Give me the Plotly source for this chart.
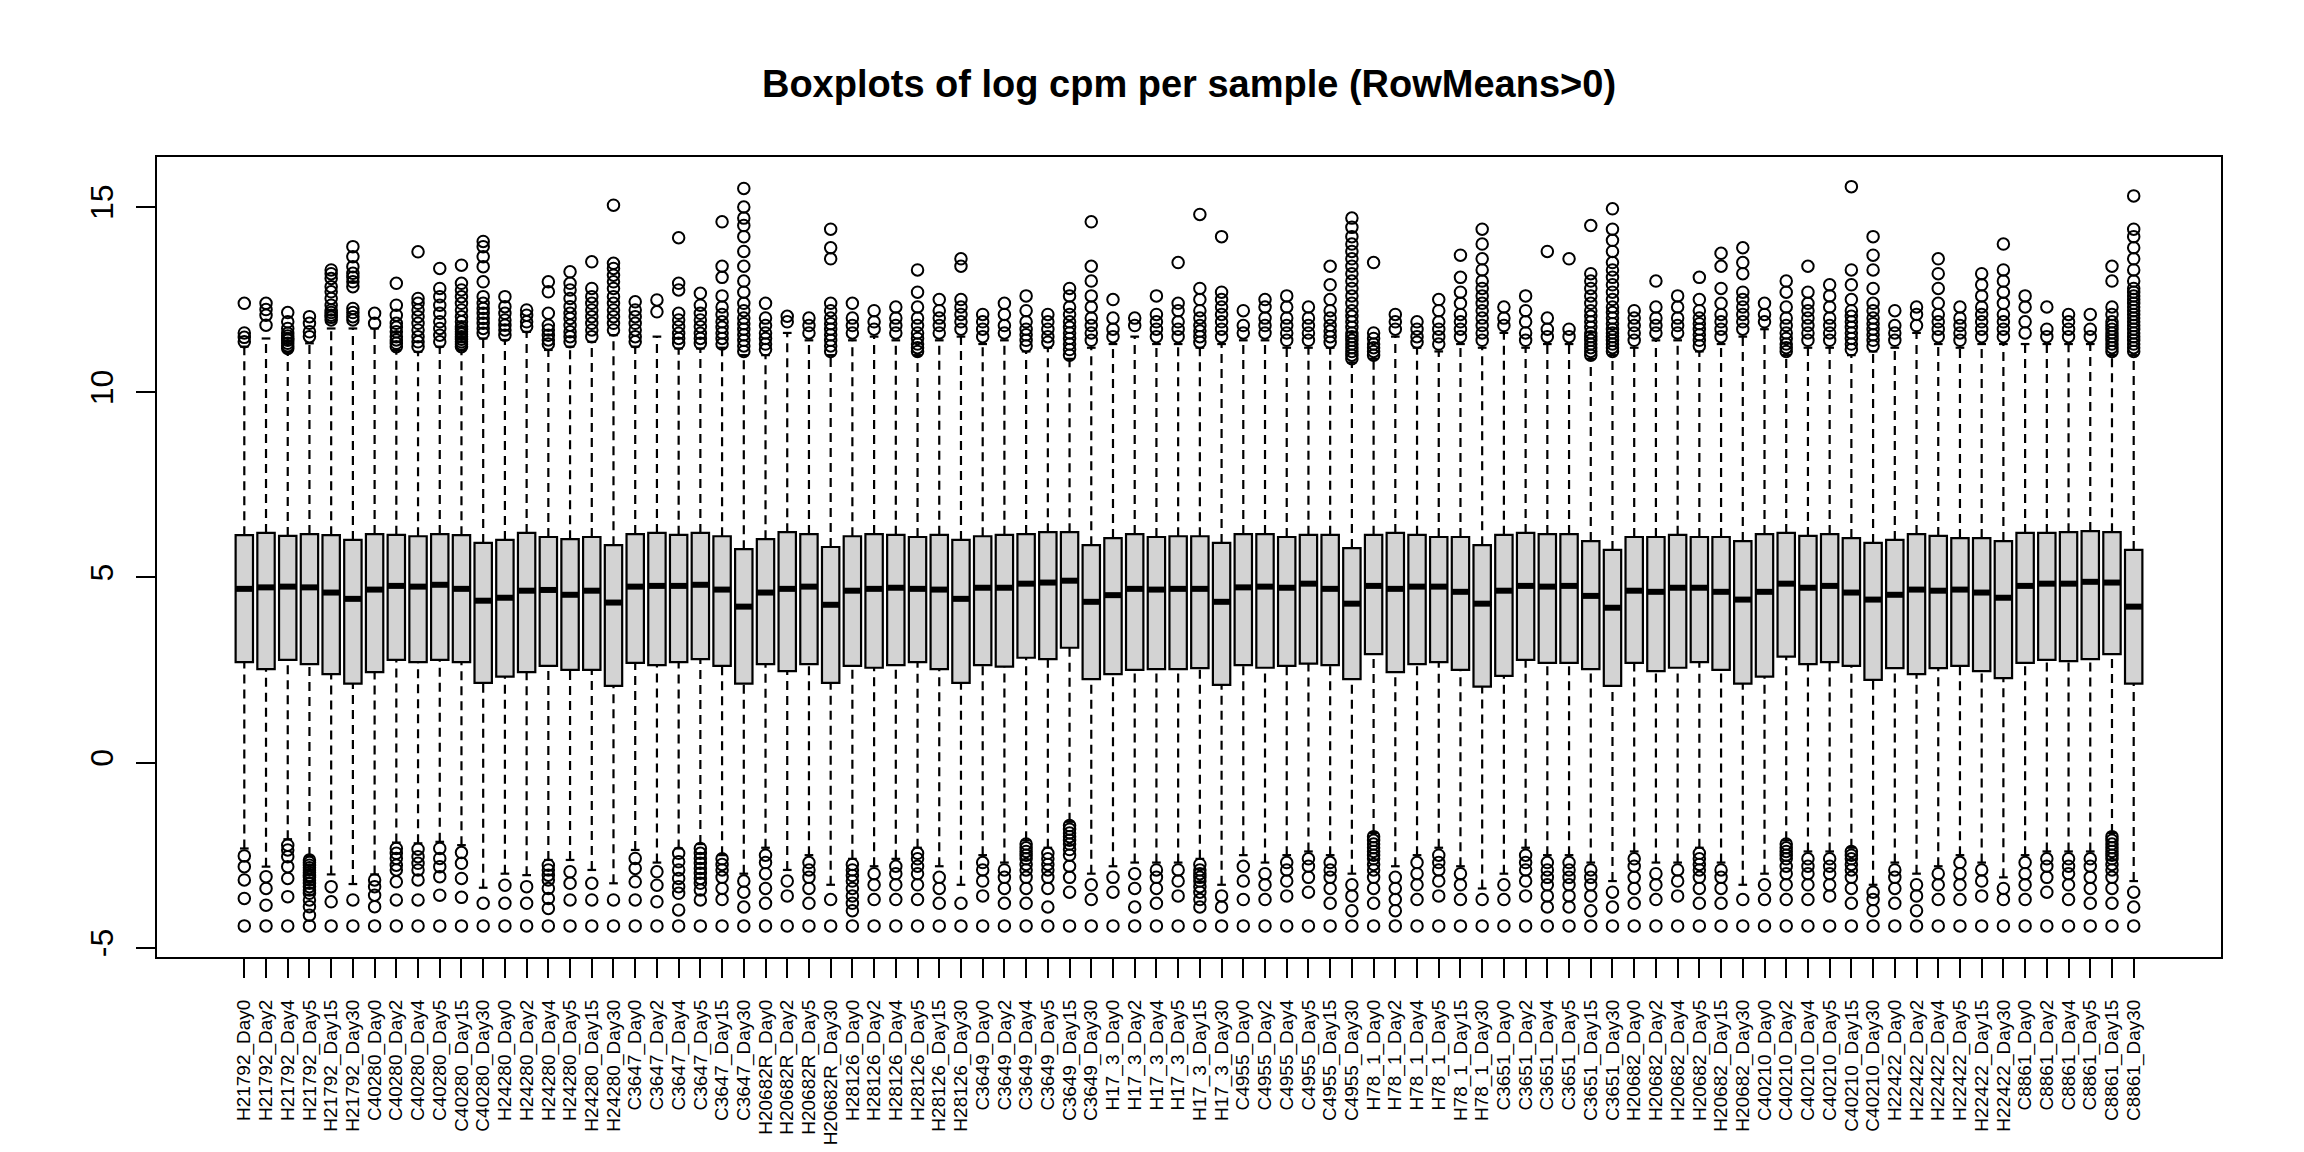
import plotly.graph_objects as go

samples = [
    "H21792_Day0", "H21792_Day2", "H21792_Day4", "H21792_Day5", "H21792_Day15", "H21792_Day30",
    "C40280_Day0", "C40280_Day2", "C40280_Day4", "C40280_Day5", "C40280_Day15", "C40280_Day30",
    "H24280_Day0", "H24280_Day2", "H24280_Day4", "H24280_Day5", "H24280_Day15", "H24280_Day30",
    "C3647_Day0", "C3647_Day2", "C3647_Day4", "C3647_Day5", "C3647_Day15", "C3647_Day30",
    "H20682R_Day0", "H20682R_Day2", "H20682R_Day5", "H20682R_Day30",
    "H28126_Day0", "H28126_Day2", "H28126_Day4", "H28126_Day5", "H28126_Day15", "H28126_Day30",
    "C3649_Day0", "C3649_Day2", "C3649_Day4", "C3649_Day5", "C3649_Day15", "C3649_Day30",
    "H17_3_Day0", "H17_3_Day2", "H17_3_Day4", "H17_3_Day5", "H17_3_Day15", "H17_3_Day30",
    "C4955_Day0", "C4955_Day2", "C4955_Day4", "C4955_Day5", "C4955_Day15", "C4955_Day30",
    "H78_1_Day0", "H78_1_Day2", "H78_1_Day4", "H78_1_Day5", "H78_1_Day15", "H78_1_Day30",
    "C3651_Day0", "C3651_Day2", "C3651_Day4", "C3651_Day5", "C3651_Day15", "C3651_Day30",
    "H20682_Day0", "H20682_Day2", "H20682_Day4", "H20682_Day5", "H20682_Day15", "H20682_Day30",
    "C40210_Day0", "C40210_Day2", "C40210_Day4", "C40210_Day5", "C40210_Day15", "C40210_Day30",
    "H22422_Day0", "H22422_Day2", "H22422_Day4", "H22422_Day5", "H22422_Day15", "H22422_Day30",
    "C8861_Day0", "C8861_Day2", "C8861_Day4", "C8861_Day5", "C8861_Day15", "C8861_Day30",
]

q3 = [
    6.14, 6.20, 6.12, 6.17, 6.14, 6.01, 6.17, 6.15, 6.11, 6.17, 6.14, 5.93,
    6.01, 6.20, 6.09, 6.03, 6.09, 5.87, 6.17, 6.20, 6.15, 6.20, 6.11, 5.76,
    6.03, 6.22, 6.17, 5.82, 6.11, 6.17, 6.15, 6.09, 6.15, 6.01,
    6.11, 6.15, 6.17, 6.22, 6.22, 5.87, 6.06, 6.17, 6.09, 6.11, 6.11, 5.93,
    6.17, 6.17, 6.09, 6.15, 6.15, 5.79, 6.15, 6.20, 6.15, 6.09, 6.09, 5.87,
    6.15, 6.20, 6.17, 6.17, 5.98, 5.74, 6.09, 6.09, 6.15, 6.09, 6.09, 5.98,
    6.17, 6.20, 6.12, 6.17, 6.06, 5.93, 6.01, 6.17, 6.12, 6.06, 6.06, 5.98,
    6.20, 6.20, 6.22, 6.25, 6.22, 5.74,
]
median = [
    4.69, 4.73, 4.75, 4.73, 4.59, 4.42, 4.67, 4.77, 4.75, 4.80, 4.69, 4.37,
    4.45, 4.64, 4.66, 4.53, 4.64, 4.32, 4.75, 4.77, 4.77, 4.80, 4.67, 4.21,
    4.59, 4.69, 4.75, 4.26, 4.64, 4.69, 4.72, 4.69, 4.67, 4.42,
    4.72, 4.72, 4.83, 4.86, 4.91, 4.34, 4.52, 4.69, 4.67, 4.69, 4.69, 4.34,
    4.73, 4.75, 4.72, 4.83, 4.69, 4.29, 4.77, 4.69, 4.75, 4.75, 4.61, 4.29,
    4.64, 4.77, 4.75, 4.77, 4.50, 4.18, 4.64, 4.61, 4.72, 4.72, 4.61, 4.40,
    4.61, 4.83, 4.72, 4.77, 4.59, 4.40, 4.53, 4.67, 4.64, 4.67, 4.59, 4.45,
    4.77, 4.83, 4.83, 4.88, 4.86, 4.21,
]
q1 = [
    2.71, 2.52, 2.77, 2.66, 2.39, 2.13, 2.44, 2.77, 2.71, 2.77, 2.71, 2.15,
    2.32, 2.44, 2.61, 2.50, 2.50, 2.07, 2.69, 2.63, 2.71, 2.79, 2.61, 2.13,
    2.66, 2.47, 2.66, 2.15, 2.61, 2.56, 2.63, 2.71, 2.52, 2.15,
    2.63, 2.59, 2.83, 2.79, 3.10, 2.25, 2.39, 2.50, 2.52, 2.52, 2.55, 2.10,
    2.63, 2.56, 2.61, 2.67, 2.63, 2.25, 2.93, 2.44, 2.66, 2.71, 2.50, 2.05,
    2.34, 2.77, 2.69, 2.69, 2.52, 2.07, 2.69, 2.47, 2.56, 2.71, 2.50, 2.13,
    2.32, 2.86, 2.66, 2.71, 2.61, 2.23, 2.55, 2.39, 2.55, 2.61, 2.47, 2.28,
    2.69, 2.77, 2.74, 2.79, 2.93, 2.13,
]
whisker_high = [
    11.23, 11.45, 11.09, 11.32, 11.72, 11.72, 11.72, 11.14, 11.09, 11.23, 11.14, 11.45,
    11.41, 11.63, 11.14, 11.23, 11.36, 11.54, 11.23, 11.50, 11.18, 11.18, 11.2, 11.0,
    11.0, 11.6, 11.4, 11.0, 11.4, 11.5, 11.4, 11.0, 11.4, 11.5,
    11.3, 11.4, 11.1, 11.2, 10.9, 11.2, 11.3, 11.5, 11.3, 11.3, 11.2, 11.3,
    11.4, 11.4, 11.2, 11.2, 11.2, 10.8, 10.9, 11.5, 11.2, 11.1, 11.3, 11.2,
    11.6, 11.2, 11.3, 11.3, 10.9, 11.0, 11.2, 11.4, 11.4, 11.1, 11.3, 11.5,
    11.7, 11.0, 11.2, 11.2, 11.0, 11.1, 11.2, 11.6, 11.3, 11.2, 11.3, 11.3,
    11.3, 11.3, 11.3, 11.3, 11.0, 11.0,
]
whisker_low = [
    -2.32, -2.81, -2.07, -2.52, -3.02, -3.28, -3.02, -2.16, -2.18, -2.14, -2.23, -3.38,
    -3.00, -3.04, -2.63, -2.63, -2.90, -3.26, -2.36, -2.70, -2.32, -2.20, -2.5, -3.0,
    -2.3, -2.9, -2.5, -3.3, -2.6, -2.8, -2.6, -2.3, -2.8, -3.3,
    -2.5, -2.7, -2.1, -2.3, -1.6, -3.0, -2.8, -2.7, -2.7, -2.7, -2.6, -3.3,
    -2.5, -2.7, -2.5, -2.4, -2.5, -3.0, -1.9, -2.8, -2.5, -2.3, -2.8, -3.4,
    -3.0, -2.3, -2.5, -2.5, -2.7, -3.2, -2.4, -2.7, -2.7, -2.3, -2.7, -3.3,
    -3.0, -2.1, -2.4, -2.4, -2.3, -3.3, -2.7, -3.0, -2.8, -2.5, -2.7, -3.1,
    -2.5, -2.4, -2.4, -2.4, -1.9, -3.2,
]

upper_outliers = [
    [11.36, 11.48, 11.60, 12.40],
    [11.81, 12.08, 12.23, 12.40],
    [11.18, 11.25, 11.32, 11.40, 11.45, 11.52, 11.59, 11.72, 11.90, 12.15],
    [11.50, 11.63, 11.86, 12.04],
    [11.95, 12.02, 12.08, 12.15, 12.22, 12.35, 12.53, 12.71, 12.85, 13.07, 13.20, 13.30],
    [11.95, 12.04, 12.15, 12.26, 12.85, 12.98, 13.10, 13.21, 13.39, 13.66, 13.93],
    [11.86, 12.13],
    [11.23, 11.32, 11.41, 11.50, 11.63, 11.75, 11.86, 12.08, 12.35, 12.94],
    [11.23, 11.36, 11.50, 11.68, 11.86, 12.04, 12.22, 12.40, 12.53, 13.79],
    [11.36, 11.54, 11.72, 11.90, 12.13, 12.35, 12.58, 12.80, 13.34],
    [11.23, 11.30, 11.36, 11.43, 11.50, 11.57, 11.63, 11.70, 11.77, 11.90, 12.04, 12.22, 12.40, 12.58, 12.76, 12.94, 13.43],
    [11.59, 11.72, 11.86, 11.99, 12.13, 12.26, 12.40, 12.58, 12.98, 13.39, 13.66, 13.93, 14.07],
    [11.54, 11.68, 11.81, 11.95, 12.13, 12.31, 12.58],
    [11.77, 11.90, 12.08, 12.22],
    [11.30, 11.41, 11.54, 11.68, 11.81, 12.13, 12.71, 12.98],
    [11.36, 11.50, 11.63, 11.81, 11.99, 12.13, 12.31, 12.53, 12.76, 12.94, 13.25],
    [11.50, 11.68, 11.86, 12.04, 12.22, 12.40, 12.58, 12.80, 13.52],
    [11.68, 11.86, 12.04, 12.22, 12.40, 12.58, 12.80, 12.98, 13.16, 13.34, 13.48, 15.05],
    [11.36, 11.50, 11.68, 11.86, 12.04, 12.22, 12.44],
    [12.17, 12.49],
    [11.32, 11.45, 11.59, 11.77, 11.95, 12.13, 12.76, 12.94, 14.17],
    [11.32, 11.45, 11.59, 11.77, 11.95, 12.13, 12.35, 12.67],
    [11.3, 11.45, 11.6, 11.75, 11.9, 12.1, 12.3, 12.6, 13.1, 13.4, 14.6],
    [11.1, 11.25, 11.4, 11.55, 11.7, 11.85, 12.0, 12.2, 12.4, 12.7, 13.0, 13.4, 13.8, 14.2, 14.5, 14.7, 15.0, 15.5],
    [11.15, 11.3, 11.45, 11.6, 11.8, 12.0, 12.4],
    [11.9, 12.05],
    [11.6, 11.8, 12.0],
    [11.1, 11.25, 11.4, 11.55, 11.7, 11.85, 12.0, 12.2, 12.4, 13.6, 13.9, 14.4],
    [11.6, 11.8, 12.0, 12.4],
    [11.7, 11.9, 12.2],
    [11.6, 11.8, 12.0, 12.3],
    [11.1, 11.2, 11.3, 11.45, 11.6, 11.8, 12.0, 12.3, 12.7, 13.3],
    [11.6, 11.8, 12.0, 12.2, 12.5],
    [11.7, 11.9, 12.1, 12.3, 12.5, 13.4, 13.6],
    [11.5, 11.7, 11.9, 12.1],
    [11.6, 11.8, 12.1, 12.4],
    [11.25, 11.4, 11.55, 11.7, 11.9, 12.2, 12.6],
    [11.35, 11.5, 11.7, 11.9, 12.1],
    [11.0, 11.15, 11.3, 11.45, 11.6, 11.75, 11.9, 12.1, 12.3, 12.6, 12.8],
    [11.4, 11.6, 11.8, 12.0, 12.3, 12.6, 13.0, 13.4, 14.6],
    [11.5, 11.7, 12.0, 12.5],
    [11.8, 12.0],
    [11.5, 11.7, 11.9, 12.1, 12.6],
    [11.5, 11.7, 11.9, 12.2, 12.4, 13.5],
    [11.35, 11.5, 11.65, 11.8, 12.0, 12.2, 12.5, 12.8, 14.8],
    [11.5, 11.7, 11.9, 12.1, 12.3, 12.5, 12.7, 14.2],
    [11.6, 11.8, 12.2],
    [11.6, 11.8, 12.0, 12.3, 12.5],
    [11.4, 11.6, 11.8, 12.0, 12.3, 12.6],
    [11.4, 11.6, 11.8, 12.0, 12.3],
    [11.35, 11.5, 11.65, 11.8, 12.0, 12.2, 12.5, 12.9, 13.4],
    [10.9, 11.0, 11.1, 11.2, 11.3, 11.4, 11.5, 11.6, 11.75, 11.9, 12.05, 12.2, 12.4, 12.6, 12.8, 13.0, 13.2, 13.4, 13.6, 13.8, 14.0, 14.2, 14.45, 14.7],
    [11.0, 11.1, 11.2, 11.3, 11.45, 11.6, 13.5],
    [11.7, 11.9, 12.1],
    [11.35, 11.5, 11.7, 11.9],
    [11.3, 11.5, 11.7, 11.9, 12.2, 12.5],
    [11.5, 11.7, 11.9, 12.1, 12.4, 12.7, 13.1, 13.7],
    [11.4, 11.6, 11.8, 12.0, 12.2, 12.4, 12.6, 12.8, 13.0, 13.3, 13.6, 14.0, 14.4],
    [11.8, 12.0, 12.3],
    [11.4, 11.6, 11.9, 12.2, 12.6],
    [11.5, 11.7, 12.0, 13.8],
    [11.5, 11.7, 13.6],
    [11.0, 11.1, 11.2, 11.3, 11.4, 11.5, 11.6, 11.75, 11.9, 12.05, 12.2, 12.4, 12.6, 12.8, 13.0, 13.2, 14.5],
    [11.1, 11.2, 11.3, 11.4, 11.5, 11.6, 11.7, 11.85, 12.0, 12.15, 12.3, 12.5, 12.7, 12.9, 13.1, 13.3, 13.5, 13.8, 14.1, 14.4, 14.95],
    [11.4, 11.6, 11.8, 12.0, 12.2],
    [11.6, 11.8, 12.0, 12.3, 13.0],
    [11.6, 11.8, 12.0, 12.3, 12.6],
    [11.25, 11.4, 11.55, 11.7, 11.85, 12.0, 12.2, 12.5, 13.1],
    [11.5, 11.7, 11.9, 12.1, 12.4, 12.8, 13.4, 13.75],
    [11.7, 11.9, 12.1, 12.3, 12.5, 12.7, 13.2, 13.5, 13.9],
    [11.9, 12.1, 12.4],
    [11.1, 11.2, 11.3, 11.45, 11.6, 11.8, 12.0, 12.3, 12.7, 13.0],
    [11.4, 11.6, 11.8, 12.0, 12.2, 12.4, 12.7, 13.4],
    [11.4, 11.6, 11.8, 12.0, 12.3, 12.6, 12.9],
    [11.15, 11.3, 11.45, 11.6, 11.75, 11.9, 12.05, 12.2, 12.5, 12.9, 13.3, 15.55],
    [11.25, 11.4, 11.55, 11.7, 11.85, 12.0, 12.2, 12.4, 12.8, 13.3, 13.7, 14.2],
    [11.4, 11.6, 11.8, 12.2],
    [11.8, 12.1, 12.3],
    [11.5, 11.7, 11.9, 12.1, 12.4, 12.8, 13.2, 13.6],
    [11.4, 11.6, 11.8, 12.0, 12.3],
    [11.5, 11.7, 11.9, 12.1, 12.3, 12.6, 12.9, 13.2],
    [11.5, 11.7, 11.9, 12.1, 12.4, 12.7, 13.0, 13.3, 14.0],
    [11.6, 11.9, 12.3, 12.6],
    [11.5, 11.7, 12.3],
    [11.5, 11.7, 11.9, 12.1],
    [11.5, 11.7, 12.1],
    [11.1, 11.2, 11.3, 11.4, 11.5, 11.6, 11.7, 11.8, 11.9, 12.1, 12.3, 13.0, 13.4],
    [11.1, 11.2, 11.3, 11.4, 11.5, 11.6, 11.7, 11.8, 11.9, 12.0, 12.1, 12.2, 12.3, 12.4, 12.5, 12.6, 12.7, 12.8, 13.0, 13.3, 13.6, 13.9, 14.2, 14.4, 15.3],
]

lower_outliers = [
    [-2.52, -2.81, -3.17, -3.67, -4.41],
    [-3.08, -3.40, -3.85, -4.41],
    [-2.23, -2.36, -2.54, -2.81, -3.13, -3.62, -4.41],
    [-2.63, -2.70, -2.77, -2.84, -2.90, -2.97, -3.04, -3.10, -3.17, -3.26, -3.35, -3.44, -3.53, -3.71, -3.89, -4.12, -4.41],
    [-3.35, -3.76, -4.41],
    [-3.71, -4.41],
    [-3.17, -3.35, -3.58, -3.89, -4.41],
    [-2.32, -2.45, -2.59, -2.77, -2.90, -3.22, -3.71, -4.41],
    [-2.34, -2.54, -2.72, -2.90, -3.17, -3.71, -4.41],
    [-2.32, -2.59, -2.81, -3.08, -3.58, -4.41],
    [-2.43, -2.72, -3.13, -3.64, -4.41],
    [-3.80, -4.41],
    [-3.31, -3.80, -4.41],
    [-3.35, -3.80, -4.41],
    [-2.77, -2.90, -3.04, -3.17, -3.40, -3.67, -3.94, -4.41],
    [-2.95, -3.26, -3.71, -4.41],
    [-3.26, -3.71, -4.41],
    [-3.71, -4.41],
    [-2.59, -2.86, -3.22, -3.71, -4.41],
    [-2.95, -3.31, -3.76, -4.41],
    [-2.45, -2.68, -2.90, -3.13, -3.35, -3.53, -3.98, -4.41],
    [-2.32, -2.45, -2.59, -2.72, -2.86, -2.99, -3.13, -3.26, -3.44, -3.71, -4.41],
    [-2.6, -2.75, -2.9, -3.1, -3.4, -3.7, -4.41],
    [-3.2, -3.5, -3.9, -4.41],
    [-2.5, -2.7, -3.0, -3.4, -3.8, -4.41],
    [-3.2, -3.6, -4.41],
    [-2.7, -2.9, -3.1, -3.4, -3.8, -4.41],
    [-3.7, -4.41],
    [-2.75, -2.9, -3.05, -3.2, -3.4, -3.6, -3.8, -4.0, -4.41],
    [-3.0, -3.3, -3.7, -4.41],
    [-2.8, -3.0, -3.3, -3.7, -4.41],
    [-2.45, -2.6, -2.8, -3.0, -3.3, -3.7, -4.41],
    [-3.1, -3.4, -3.8, -4.41],
    [-3.8, -4.41],
    [-2.7, -2.9, -3.2, -3.6, -4.41],
    [-2.9, -3.1, -3.4, -3.8, -4.41],
    [-2.2, -2.3, -2.4, -2.5, -2.6, -2.75, -2.9, -3.1, -3.4, -3.8, -4.41],
    [-2.45, -2.6, -2.75, -2.9, -3.1, -3.4, -3.9, -4.41],
    [-1.7, -1.8, -1.9, -2.0, -2.1, -2.2, -2.35, -2.5, -2.8, -3.1, -3.5, -4.41],
    [-3.3, -3.7, -4.41],
    [-3.1, -3.5, -4.41],
    [-3.0, -3.4, -3.9, -4.41],
    [-2.9, -3.1, -3.4, -3.8, -4.41],
    [-2.9, -3.2, -3.6, -4.41],
    [-2.75, -2.9, -3.0, -3.1, -3.2, -3.35, -3.5, -3.7, -3.9, -4.41],
    [-3.6, -3.9, -4.41],
    [-2.8, -3.2, -3.7, -4.41],
    [-3.0, -3.3, -3.7, -4.41],
    [-2.7, -2.9, -3.2, -3.6, -4.41],
    [-2.6, -2.8, -3.1, -3.5, -4.41],
    [-2.7, -2.9, -3.1, -3.4, -3.8, -4.41],
    [-3.3, -3.6, -4.0, -4.41],
    [-2.0, -2.1, -2.2, -2.3, -2.4, -2.5, -2.6, -2.75, -2.9, -3.1, -3.4, -3.8, -4.41],
    [-3.1, -3.4, -3.7, -4.0, -4.41],
    [-2.7, -3.0, -3.3, -3.7, -4.41],
    [-2.5, -2.7, -2.9, -3.2, -3.6, -4.41],
    [-3.0, -3.3, -3.7, -4.41],
    [-3.7, -4.41],
    [-3.3, -3.7, -4.41],
    [-2.5, -2.7, -2.9, -3.2, -3.6, -4.41],
    [-2.7, -2.9, -3.1, -3.3, -3.6, -3.9, -4.41],
    [-2.7, -2.9, -3.1, -3.3, -3.6, -3.9, -4.41],
    [-2.9, -3.1, -3.3, -3.6, -4.0, -4.41],
    [-3.5, -3.9, -4.41],
    [-2.6, -2.8, -3.1, -3.4, -3.8, -4.41],
    [-3.0, -3.3, -3.7, -4.41],
    [-2.9, -3.2, -3.6, -4.41],
    [-2.45, -2.6, -2.75, -2.9, -3.1, -3.4, -3.8, -4.41],
    [-2.9, -3.1, -3.4, -3.8, -4.41],
    [-3.7, -4.41],
    [-3.3, -3.7, -4.41],
    [-2.2, -2.3, -2.4, -2.5, -2.6, -2.8, -3.0, -3.3, -3.7, -4.41],
    [-2.6, -2.8, -3.0, -3.3, -3.7, -4.41],
    [-2.6, -2.8, -3.0, -3.3, -3.6, -4.41],
    [-2.4, -2.5, -2.6, -2.75, -2.9, -3.1, -3.4, -3.8, -4.41],
    [-3.5, -3.7, -4.0, -4.41],
    [-2.9, -3.1, -3.4, -3.8, -4.41],
    [-3.3, -3.6, -4.0, -4.41],
    [-3.0, -3.3, -3.7, -4.41],
    [-2.7, -3.0, -3.3, -3.7, -4.41],
    [-2.9, -3.2, -3.6, -4.41],
    [-3.4, -3.7, -4.41],
    [-2.7, -3.0, -3.3, -3.7, -4.41],
    [-2.6, -2.8, -3.1, -3.5, -4.41],
    [-2.6, -2.8, -3.0, -3.3, -3.7, -4.41],
    [-2.6, -2.8, -3.1, -3.4, -3.8, -4.41],
    [-2.0, -2.1, -2.2, -2.3, -2.4, -2.5, -2.6, -2.75, -2.9, -3.1, -3.4, -3.8, -4.41],
    [-3.5, -3.9, -4.41],
]

y_ticks = [-5, 0, 5, 10, 15]
title_text = "Boxplots of log cpm per sample (RowMeans>0)"

FONT = "Liberation Sans, Arial, Helvetica, sans-serif"
pos = list(range(1, len(samples) + 1))
BOX_HALF = 0.4
STAPLE_HALF = 0.2

# figure sits inside the default 8px page margin
FIG_W, FIG_H = 2288, 1144

# dashed whiskers
wx, wy = [], []
for p, lo, a, b, hi in zip(pos, whisker_low, q1, q3, whisker_high):
    wx += [p, p, None, p, p, None]
    wy += [lo, a, None, b, hi, None]

# staples
sx, sy = [], []
for p, lo, hi in zip(pos, whisker_low, whisker_high):
    sx += [p - STAPLE_HALF, p + STAPLE_HALF, None, p - STAPLE_HALF, p + STAPLE_HALF, None]
    sy += [lo, lo, None, hi, hi, None]

# medians
mx, my = [], []
for p, m in zip(pos, median):
    mx += [p - BOX_HALF, p + BOX_HALF, None]
    my += [m, m, None]

# outliers
ox, oy = [], []
for p, ups, lows in zip(pos, upper_outliers, lower_outliers):
    for v in ups + lows:
        ox.append(p)
        oy.append(v)

fig = go.Figure()
fig.add_trace(go.Scatter(x=wx, y=wy, mode="lines",
                         line=dict(color="black", width=2.2, dash="9px,6px"),
                         hoverinfo="skip", showlegend=False))
fig.add_trace(go.Scatter(x=sx, y=sy, mode="lines",
                         line=dict(color="black", width=2.2),
                         hoverinfo="skip", showlegend=False))
fig.add_trace(go.Box(x=pos, q1=q1, median=median, q3=q3,
                     lowerfence=q1, upperfence=q3,
                     width=2 * BOX_HALF, whiskerwidth=0,
                     fillcolor="#D3D3D3", line=dict(color="black", width=2.2),
                     boxpoints=False, hoverinfo="skip", showlegend=False))
fig.add_trace(go.Scatter(x=mx, y=my, mode="lines",
                         line=dict(color="black", width=6),
                         hoverinfo="skip", showlegend=False))
fig.add_trace(go.Scatter(x=ox, y=oy, mode="markers",
                         marker=dict(symbol="circle-open", size=11.5, color="black",
                                     line=dict(width=2, color="black")),
                         hoverinfo="skip", showlegend=False))

fig.update_layout(
    width=FIG_W, height=FIG_H,
    margin=dict(l=149, r=75, t=149, b=195, pad=0, autoexpand=False),
    plot_bgcolor="white", paper_bgcolor="white",
    showlegend=False,
    font=dict(family=FONT, color="black"),
    title=dict(text=title_text, x=0.5, xref="paper", xanchor="center",
               y=1 - 76 / FIG_H, yref="container", yanchor="middle",
               font=dict(family=FONT, size=38, color="black", weight="bold")),
    xaxis=dict(range=[-3.02, 92.02], tickmode="array", tickvals=pos, ticktext=samples,
               tickangle=-90, tickfont=dict(size=19, family=FONT, color="black"),
               ticks="outside", ticklen=19, tickwidth=2, tickcolor="black",
               ticklabelstandoff=14, automargin=False,
               showline=True, linecolor="black", linewidth=2, mirror=True,
               showgrid=False, zeroline=False),
    yaxis=dict(range=[-5.25, 16.35], tickmode="array", tickvals=y_ticks,
               ticktext=[str(v) for v in y_ticks],
               tickangle=-90, tickfont=dict(size=32, family=FONT, color="black"),
               ticks="outside", ticklen=19, tickwidth=2, tickcolor="black",
               ticklabelstandoff=10, automargin=False,
               showline=True, linecolor="black", linewidth=2, mirror=True,
               showgrid=False, zeroline=False),
)

fig.write_html("out.html")
